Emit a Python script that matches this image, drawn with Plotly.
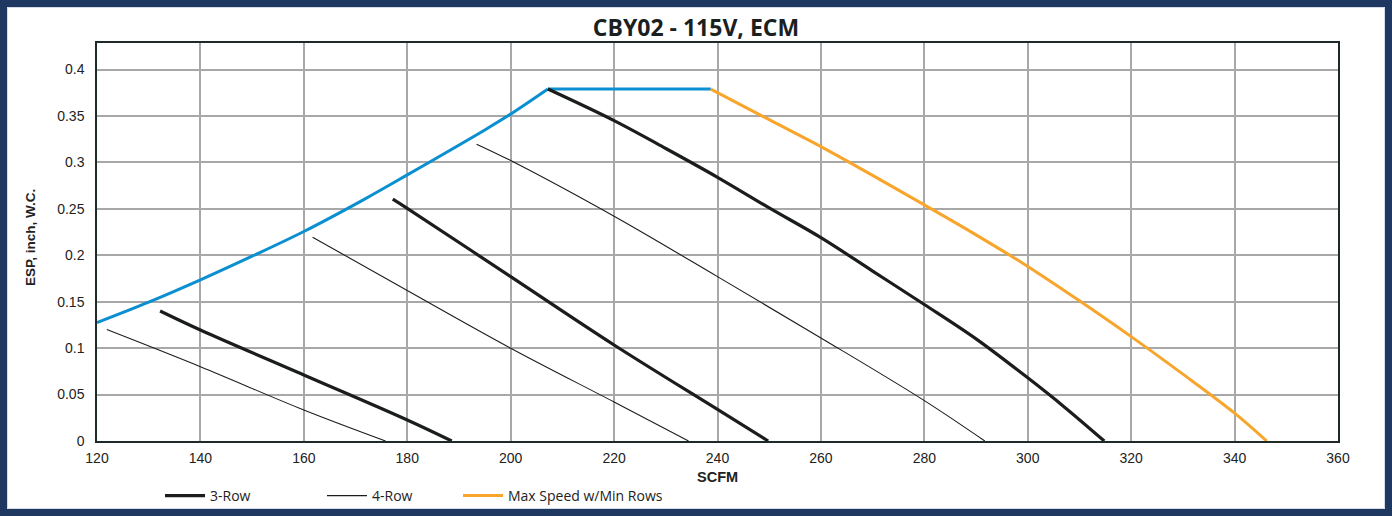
import plotly.graph_objects as go

# ---- data ----
title_text = "CBY02 - 115V, ECM"
x_ticks = [120, 140, 160, 180, 200, 220, 240, 260, 280, 300, 320, 340, 360]
y_ticks = [0, 0.05, 0.1, 0.15, 0.2, 0.25, 0.3, 0.35, 0.4]
y_tick_labels = ["0", "0.05", "0.1", "0.15", "0.2", "0.25", "0.3", "0.35", "0.4"]

# 3-Row curves (thick)
row3_a_x = [132.2, 140, 160, 180, 188.6]
row3_a_y = [0.140, 0.1195, 0.0711, 0.0226, 0.0]
row3_b_x = [177.2, 180, 200, 220, 240, 249.8]
row3_b_y = [0.2604, 0.2505, 0.177, 0.1034, 0.034, 0.0]
row3_c_x = [207.2, 220, 230, 240, 250, 260, 270, 280, 290, 300, 307, 314.8]
row3_c_y = [0.379, 0.345, 0.315, 0.284, 0.251, 0.219, 0.183, 0.147, 0.110, 0.068, 0.037, 0.0]

# 4-Row curves (thin)
row4_a_x = [121.9, 140, 160, 175.8]
row4_a_y = [0.120, 0.080, 0.0334, 0.0]
row4_b_x = [161.7, 180, 200, 220, 234.4]
row4_b_y = [0.2195, 0.162, 0.0999, 0.042, 0.0]
row4_c_x = [193.4, 200, 220, 240, 260, 280, 291.7]
row4_c_y = [0.3197, 0.302, 0.242, 0.177, 0.111, 0.0435, 0.0]

# Max speed w/ min rows (orange)
max_x = [238.7, 250, 260, 270, 280, 290, 300, 310, 320, 330, 340, 346.2]
max_y = [0.379, 0.346, 0.317, 0.286, 0.2543, 0.222, 0.188, 0.151, 0.1124, 0.072, 0.030, 0.0]

# Limit curve (blue)
limit_rise_x = [120, 130, 140, 150, 160, 171.5, 180, 195, 200, 207.2]
limit_rise_y = [0.1275, 0.1495, 0.1735, 0.199, 0.2256, 0.2597, 0.2866, 0.335, 0.352, 0.379]
limit_flat_x = [207.2, 238.7]
limit_flat_y = [0.379, 0.379]

# ---- styling ----
BLACK = "#1b1d1d"
BLUE = "#0a8fd1"
ORANGE = "#f8a52b"
NAVY = "#1f3861"

W, H = 1392, 516
ML, MR, MT, MB = 97, 54, 43, 75
PW, PH = W - ML - MR, H - MT - MB

fig = go.Figure()

def add_line(x, y, color, width, name, group, show, legend, shape="spline"):
    fig.add_trace(go.Scatter(
        x=x, y=y, mode="lines", name=name, legendgroup=group, showlegend=show,
        legend=legend,
        line=dict(color=color, width=width, shape=shape, smoothing=1.0),
        hoverinfo="x+y"))

add_line(limit_rise_x, limit_rise_y, BLUE, 3, "Limit", "limit", False, "legend")
add_line(limit_flat_x, limit_flat_y, BLUE, 3, "Limit", "limit", False, "legend", shape="linear")
add_line(row4_a_x, row4_a_y, BLACK, 1.1, "4-Row", "r4", True, "legend2")
add_line(row4_b_x, row4_b_y, BLACK, 1.1, "4-Row", "r4", False, "legend2")
add_line(row4_c_x, row4_c_y, BLACK, 1.1, "4-Row", "r4", False, "legend2")
add_line(row3_a_x, row3_a_y, BLACK, 3.2, "3-Row", "r3", True, "legend")
add_line(row3_b_x, row3_b_y, BLACK, 3.2, "3-Row", "r3", False, "legend")
add_line(row3_c_x, row3_c_y, BLACK, 3.2, "3-Row", "r3", False, "legend")
add_line(max_x, max_y, ORANGE, 3, "Max Speed w/Min Rows", "max", True, "legend3")

def px_to_paper_x(px):
    return (px - ML) / PW

def py_to_paper_y(py):
    return (H - MB - py) / PH

legend_font = dict(family="Open Sans", size=14, color="#222222")
legend_common = dict(orientation="h", yanchor="middle", xanchor="left",
                     xref="container", yref="container",
                     y=1 - 496 / H, font=legend_font, itemwidth=40,
                     bgcolor="rgba(0,0,0,0)", borderwidth=0)

fig.update_layout(
    width=W, height=H,
    margin=dict(l=ML, r=MR, t=MT, b=MB, autoexpand=False),
    paper_bgcolor="white", plot_bgcolor="white",
    title=dict(text=f"<b>{title_text}</b>", x=0.5, xref="container", xanchor="center",
               y=1 - 28 / H, yref="container", yanchor="middle",
               font=dict(family="Open Sans", size=23, color="#1b1f1f")),
    xaxis=dict(range=[120, 360], tickvals=x_ticks, ticktext=[str(v) for v in x_ticks],
               showgrid=True, gridcolor="#a8a8a8", gridwidth=1.5,
               showline=True, linecolor="#1e2a2a", linewidth=1.5, mirror=True,
               zeroline=False, ticks="", ticklabelstandoff=3,
               tickfont=dict(family="Liberation Sans, Arial", size=14, color="#222222")),
    yaxis=dict(range=[0, 0.4286], tickvals=y_ticks, ticktext=y_tick_labels,
               showgrid=True, gridcolor="#a8a8a8", gridwidth=1.5,
               showline=True, linecolor="#1e2a2a", linewidth=1.5, mirror=True,
               zeroline=False, ticks="", ticklabelstandoff=8,
               tickfont=dict(family="Liberation Sans, Arial", size=14, color="#222222")),
    legend=dict(x=160 / W, **legend_common),
    legend2=dict(x=322 / W, **legend_common),
    legend3=dict(x=458 / W, **legend_common),
    showlegend=True,
)

# axis titles
fig.add_annotation(text="<b>SCFM</b>", xref="paper", yref="paper",
                   x=px_to_paper_x(717), y=py_to_paper_y(477), showarrow=False,
                   xanchor="center", yanchor="middle",
                   font=dict(family="Liberation Sans, Arial", size=14.5, color="#222222"))
fig.add_annotation(text="<b>ESP, inch, W.C.</b>", xref="paper", yref="paper",
                   x=px_to_paper_x(31), y=py_to_paper_y(238), showarrow=False,
                   textangle=-90, xanchor="center", yanchor="middle",
                   font=dict(family="Liberation Sans, Arial", size=13.5, color="#222222"))

# outer navy frame
fig.add_shape(type="rect", xref="paper", yref="paper",
              x0=px_to_paper_x(3.5), x1=px_to_paper_x(1388.5),
              y0=py_to_paper_y(512.5), y1=py_to_paper_y(3.5),
              line=dict(color=NAVY, width=7), fillcolor="rgba(0,0,0,0)", layer="above")
fig.add_shape(type="rect", xref="paper", yref="paper",
              x0=px_to_paper_x(7.5), x1=px_to_paper_x(1384.5),
              y0=py_to_paper_y(508.5), y1=py_to_paper_y(7.5),
              line=dict(color="#d3dae3", width=1), fillcolor="rgba(0,0,0,0)", layer="above")

fig.write_html("out.html", config={"displayModeBar": False},
               post_script="document.body.style.margin='0';document.body.style.padding='0';"
                           "document.body.style.overflow='hidden';")
